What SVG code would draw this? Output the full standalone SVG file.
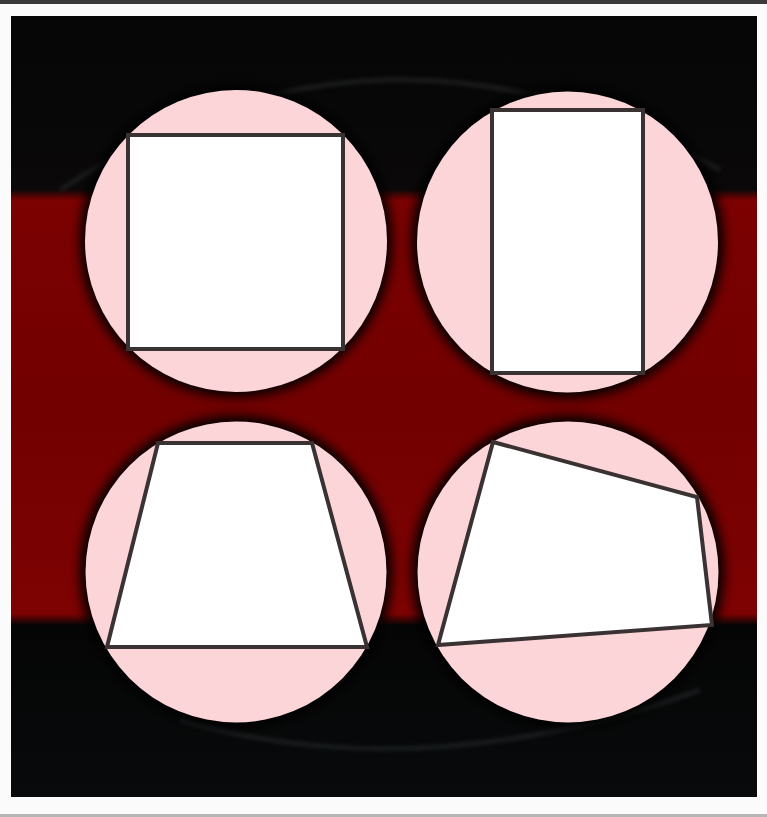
<svg xmlns="http://www.w3.org/2000/svg" width="767" height="817" viewBox="0 0 767 817">
  <defs>
    <linearGradient id="band" x1="0" y1="16" x2="0" y2="797" gradientUnits="userSpaceOnUse">
      <stop offset="0" stop-color="#060606"/>
      <stop offset="0.222" stop-color="#0a0808"/>
      <stop offset="0.236" stop-color="#7c0101"/>
      <stop offset="0.5" stop-color="#720000"/>
      <stop offset="0.765" stop-color="#7e0202"/>
      <stop offset="0.78" stop-color="#050505"/>
      <stop offset="1" stop-color="#080a0b"/>
    </linearGradient>
    <filter id="halo" x="-20%" y="-20%" width="140%" height="140%">
      <feGaussianBlur stdDeviation="6"/>
    </filter>
    <filter id="chalk" x="-10%" y="-10%" width="120%" height="120%">
      <feGaussianBlur stdDeviation="2"/>
    </filter>
    <style>
      .shadow { fill: #000; filter: url(#halo); }
      .disc { fill: #fcd5d8; }
      .shape { fill: #ffffff; stroke: #3a3232; stroke-width: 4; stroke-linejoin: miter; }
      .chalk { fill: none; stroke: #5a6068; stroke-opacity: 0.35; stroke-width: 3; filter: url(#chalk); }
    </style>
  </defs>

  <rect x="0" y="0" width="767" height="817" fill="#fbfbfb"/>
  <rect x="0" y="0" width="767" height="4" fill="#3a3a3a"/>
  <rect x="0" y="814" width="767" height="3" fill="#b5b5b5"/>

  <g id="background">
    <rect x="11" y="16" width="746" height="781" fill="url(#band)"/>
    <path class="chalk" d="M 60 190 Q 380 -20 720 170"/>
    <path class="chalk" d="M 180 720 Q 420 790 700 690"/>
  </g>

  <g id="circle-square">
    <circle class="shadow" cx="236" cy="241" r="156"/>
    <circle class="disc" cx="236" cy="241" r="151"/>
    <polygon class="shape" points="128,135 343,135 343,349 128,349"/>
  </g>

  <g id="circle-rectangle">
    <circle class="shadow" cx="567.5" cy="242" r="156"/>
    <circle class="disc" cx="567.5" cy="242" r="150.5"/>
    <polygon class="shape" points="492,110 643,110 643,373 492,373"/>
  </g>

  <g id="circle-trapezoid">
    <circle class="shadow" cx="236" cy="572" r="156"/>
    <circle class="disc" cx="236" cy="572" r="150.5"/>
    <polygon class="shape" points="158,443 312,443 367,647 107,647"/>
  </g>

  <g id="circle-quadrilateral">
    <circle class="shadow" cx="568" cy="572" r="156"/>
    <circle class="disc" cx="568" cy="572" r="150.5"/>
    <polygon class="shape" points="493,442 697,497 712,625 438,645"/>
  </g>
</svg>
